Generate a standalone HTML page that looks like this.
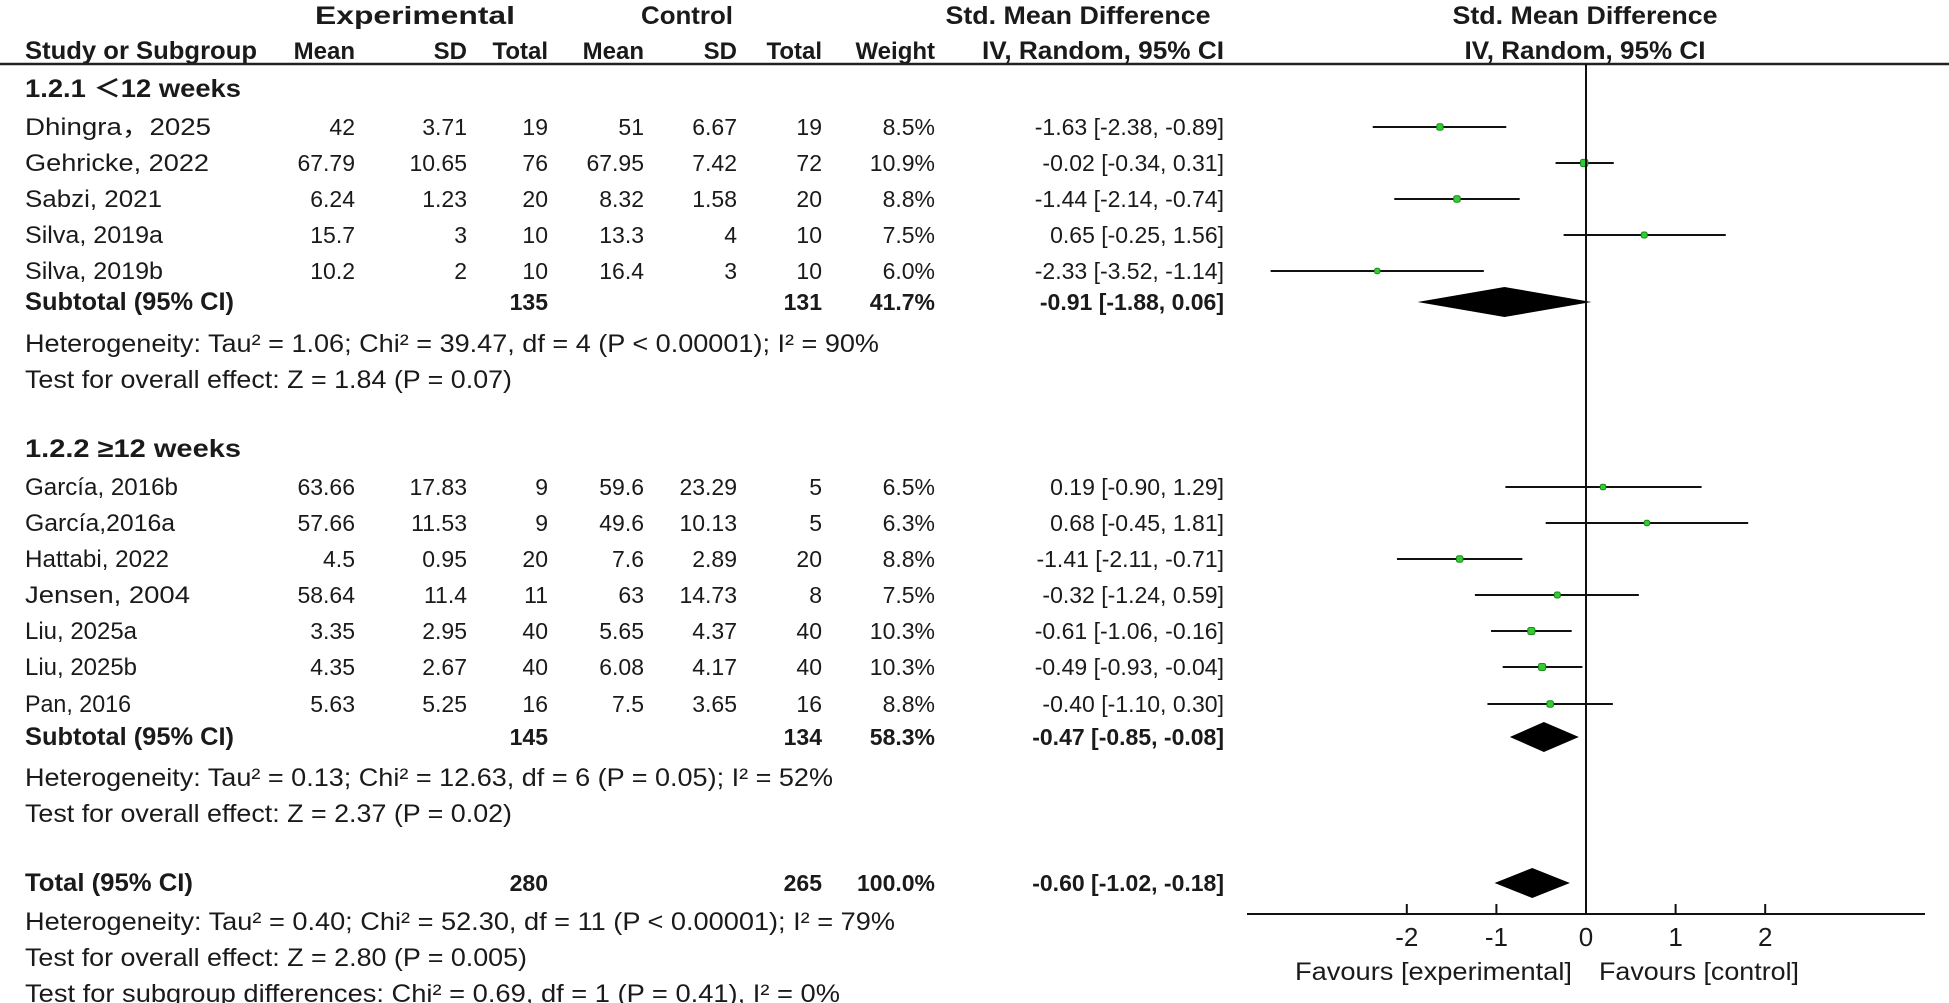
<!DOCTYPE html>
<html><head><meta charset="utf-8"><style>
html,body{margin:0;padding:0;background:#fff;}
svg{display:block;}
text{font-family:"Liberation Sans","Noto Sans CJK SC",sans-serif;font-size:23px;fill:#1a1a1a;}
.b{font-weight:bold;}
</style></head><body>
<svg id="plot" width="1949" height="1003" viewBox="0 0 1949 1003" xmlns="http://www.w3.org/2000/svg">
<g id="tbl"></g>
<g id="fp"></g>
</svg>
<script>
const studies=["Dhingra，2025","Gehricke, 2022","Sabzi, 2021","Silva, 2019a","Silva, 2019b","García, 2016b","García,2016a","Hattabi, 2022","Jensen, 2004","Liu, 2025a","Liu, 2025b","Pan, 2016"];
const expMean=["42","67.79","6.24","15.7","10.2","63.66","57.66","4.5","58.64","3.35","4.35","5.63"];
const expSD=["3.71","10.65","1.23","3","2","17.83","11.53","0.95","11.4","2.95","2.67","5.25"];
const expN=["19","76","20","10","10","9","9","20","11","40","40","16"];
const ctlMean=["51","67.95","8.32","13.3","16.4","59.6","49.6","7.6","63","5.65","6.08","7.5"];
const ctlSD=["6.67","7.42","1.58","4","3","23.29","10.13","2.89","14.73","4.37","4.17","3.65"];
const ctlN=["19","72","20","10","10","5","5","20","8","40","40","16"];
const weights=[8.5,10.9,8.8,7.5,6.0,6.5,6.3,8.8,7.5,10.3,10.3,8.8];
const smd=[-1.63,-0.02,-1.44,0.65,-2.33,0.19,0.68,-1.41,-0.32,-0.61,-0.49,-0.40];
const lo=[-2.38,-0.34,-2.14,-0.25,-3.52,-0.90,-0.45,-2.11,-1.24,-1.06,-0.93,-1.10];
const hi=[-0.89,0.31,-0.74,1.56,-1.14,1.29,1.81,-0.71,0.59,-0.16,-0.04,0.30];
const studyRowY=[127,163,199,235,271,487,523,559,595,631,667,704];
const nameW=[186,184,137,138,138,153,150,144,165,112,112,106];
const pooledLabels=["Subtotal (95% CI)","Subtotal (95% CI)","Total (95% CI)"];
const pooledLabelW=[209,209,168];
const pooledEst=[-0.91,-0.47,-0.60];
const pooledLo=[-1.88,-0.85,-1.02];
const pooledHi=[0.06,-0.08,-0.18];
const pooledExpN=["135","145","280"];
const pooledCtlN=["131","134","265"];
const pooledW=["41.7%","58.3%","100.0%"];
const pooledY=[302,737,883];
const ticks=[-2,-1,0,1,2];

const NS="http://www.w3.org/2000/svg";
const X0=1586, UNIT=89.6;
const xs=v=>X0+v*UNIT;
const fmt=v=>v.toFixed(2);
const tbl=document.getElementById('tbl'), fp=document.getElementById('fp');
function mk(tag,attrs,parent){const e=document.createElementNS(NS,tag);for(const k in attrs)e.setAttribute(k,attrs[k]);parent.appendChild(e);return e;}
function txt(s,x,y,anchor,cls,parent,name,w,fs){const t=mk('text',{x:x,y:y+8,'text-anchor':anchor||'start'},parent);if(cls)t.setAttribute('class',cls);
if(w){t.setAttribute('textLength',w);t.setAttribute('lengthAdjust','spacingAndGlyphs');t.style.fontSize=(fs||25)+'px';}
else if(fs)t.style.fontSize=fs+'px';
t.textContent=s;


return t;}

// headers
txt("Experimental",415,16,'middle','b',tbl,'experimental-header',200);
txt("Control",687,16,'middle','b',tbl,'control-header',92);
txt("Std. Mean Difference",1078,16,'middle','b',tbl,'smd-header',265);
txt("Std. Mean Difference",1585,16,'middle','b',tbl,'forest-smd-header',265);
txt("Study or Subgroup",25,51,'start','b',tbl,'column-header',232);
const hdr=[["Mean",355],["SD",467],["Total",548],["Mean",644],["SD",737],["Total",822],["Weight",935]];
hdr.forEach(h=>txt(h[0],h[1],51,'end','b',tbl,'column-header',null,24));
txt("IV, Random, 95% CI",1224,51,'end','b',tbl,'column-header',242);
txt("IV, Random, 95% CI",1585,51,'middle','b',tbl,'forest-column-header',241);
const hl=mk('line',{x1:0,y1:64,x2:1949,y2:64,stroke:'#222','stroke-width':2.5},tbl);



txt("1.2.1 ＜12 weeks",25,89,'start','b',tbl,'subgroup-1-title',216);
txt("1.2.2 ≥12 weeks",25,449,'start','b',tbl,'subgroup-2-title',216);

studies.forEach((s,i)=>{const y=studyRowY[i];
 txt(s,25,y,'start','',tbl,'study-name',nameW[i],24);
 txt(expMean[i],355,y,'end','',tbl,'exp-mean');
 txt(expSD[i],467,y,'end','',tbl,'exp-sd');
 txt(expN[i],548,y,'end','',tbl,'exp-total');
 txt(ctlMean[i],644,y,'end','',tbl,'ctl-mean');
 txt(ctlSD[i],737,y,'end','',tbl,'ctl-sd');
 txt(ctlN[i],822,y,'end','',tbl,'ctl-total');
 txt(weights[i].toFixed(1)+"%",935,y,'end','',tbl,'weight');
 txt(fmt(smd[i])+" ["+fmt(lo[i])+", "+fmt(hi[i])+"]",1224,y,'end','',tbl,'smd-ci');
 const ln=mk('line',{x1:xs(lo[i]),x2:xs(hi[i]),y1:y,y2:y,stroke:'#111','stroke-width':2},fp);
 
 
 const sz=3+weights[i]*0.4;
 const sq=mk('rect',{x:xs(smd[i])-sz/2,y:y-sz/2,width:sz,height:sz,rx:2,fill:'#33cc33',stroke:'#1a8a1a','stroke-width':1},fp);
 
 
});

pooledY.forEach((y,i)=>{
 txt(pooledLabels[i],25,y,'start','b',tbl,'pooled-label',pooledLabelW[i]);
 txt(pooledExpN[i],548,y,'end','b',tbl,'pooled-exp-total');
 txt(pooledCtlN[i],822,y,'end','b',tbl,'pooled-ctl-total');
 txt(pooledW[i],935,y,'end','b',tbl,'pooled-weight');
 txt(fmt(pooledEst[i])+" ["+fmt(pooledLo[i])+", "+fmt(pooledHi[i])+"]",1224,y,'end','b',tbl,'pooled-smd-ci');
 const h=15;
 const d=mk('polygon',{points:`${xs(pooledLo[i])},${y} ${xs(pooledEst[i])},${y-h} ${xs(pooledHi[i])},${y} ${xs(pooledEst[i])},${y+h}`,fill:'#000'},fp);
 
 
});

const notes=[["Heterogeneity: Tau² = 1.06; Chi² = 39.47, df = 4 (P < 0.00001); I² = 90%",344,854],
["Test for overall effect: Z = 1.84 (P = 0.07)",380,487],
["Heterogeneity: Tau² = 0.13; Chi² = 12.63, df = 6 (P = 0.05); I² = 52%",778,808],
["Test for overall effect: Z = 2.37 (P = 0.02)",814,487],
["Heterogeneity: Tau² = 0.40; Chi² = 52.30, df = 11 (P < 0.00001); I² = 79%",922,870],
["Test for overall effect: Z = 2.80 (P = 0.005)",958,502],
["Test for subgroup differences: Chi² = 0.69, df = 1 (P = 0.41), I² = 0%",994,815]];
notes.forEach(n=>txt(n[0],25,n[1],'start','',tbl,'stat-note',n[2]));

// axis
const zl=mk('line',{x1:X0,x2:X0,y1:64,y2:914,stroke:'#111','stroke-width':2},fp);


const ax=mk('line',{x1:1247,x2:1925,y1:914,y2:914,stroke:'#111','stroke-width':2},fp);


ticks.forEach(t=>{
 const tk=mk('line',{x1:xs(t),x2:xs(t),y1:904,y2:914,stroke:'#111','stroke-width':2},fp);
 
 
 txt(String(t),xs(t),938,'middle','',fp,'x-tick-label',null,26);
});
txt("Favours [experimental]",1572,972,'end','',fp,'favours-experimental',277);
txt("Favours [control]",1599,972,'start','',fp,'favours-control',200);
</script>
</body></html>
